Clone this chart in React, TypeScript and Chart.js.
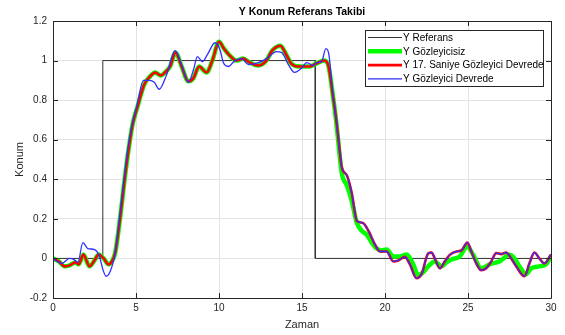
import React, { useEffect, useRef } from 'react';
import { Chart, registerables } from 'chart.js';

Chart.register(...registerables);

const TITLE = 'Y Konum Referans Takibi';
const X_LABEL = 'Zaman';
const Y_LABEL = 'Konum';
const LEGEND_LABELS = ['Y Referans', 'Y Gözleyicisiz', 'Y 17. Saniye Gözleyici Devrede', 'Y Gözleyici Devrede'];

const refT = [0, 3, 3, 15.8, 15.8, 30];
const refY = [0, 0, 1, 1, 0, 0];

const greenT = [0, 0.35, 0.7, 1.0, 1.35, 1.55, 1.83, 2.2, 2.5, 2.75, 3.05, 3.35, 3.55, 3.75, 4.05, 4.3, 4.55, 4.8, 5.1, 5.5, 5.85, 6.15, 6.5, 6.75, 7.05, 7.38, 7.75, 8.15, 8.45, 8.8, 9.25, 9.6, 10.0, 10.3, 10.65, 11.05, 11.45, 11.85, 12.35, 12.85, 13.2, 13.7, 14.05, 14.35, 14.85, 15.45, 15.85, 16.35, 16.6, 16.85, 17.05, 17.4, 17.7, 18.0, 18.3, 18.6, 18.9, 19.2, 19.5, 19.8, 20.1, 20.5, 20.9, 21.3, 21.7, 22.0, 22.3, 22.6, 23.0, 23.4, 23.7, 24.0, 24.5, 24.96, 25.3, 25.8, 26.3, 26.9, 27.5, 27.8, 28.1, 28.5, 28.8, 29.3, 29.7, 30];
const greenY = [0, -0.015, -0.04, -0.035, -0.02, -0.03, 0.02, -0.04, -0.01, 0.02, 0.0, -0.03, -0.015, 0.03, 0.21, 0.39, 0.55, 0.68, 0.77, 0.88, 0.92, 0.94, 0.925, 0.94, 0.97, 1.04, 0.97, 0.895, 0.91, 0.97, 0.94, 1.0, 1.095, 1.06, 1.025, 1.0, 1.01, 0.99, 0.975, 1.0, 1.05, 1.075, 1.03, 0.985, 0.97, 0.97, 0.985, 1.0, 0.97, 0.83, 0.7, 0.43, 0.37, 0.29, 0.18, 0.14, 0.12, 0.08, 0.05, 0.04, 0.045, 0.01, 0.01, 0.02, -0.03, -0.085, -0.07, -0.04, -0.015, -0.04, -0.02, -0.005, 0.01, 0.06, 0.02, -0.05, -0.03, -0.015, 0.018, 0.0, -0.04, -0.08, -0.05, -0.04, -0.03, 0.01];

const redT = [0, 0.35, 0.7, 1.0, 1.35, 1.55, 1.83, 2.2, 2.5, 2.75, 3.05, 3.35, 3.55, 3.75, 4.05, 4.3, 4.55, 4.8, 5.1, 5.5, 5.85, 6.15, 6.5, 6.75, 7.05, 7.38, 7.75, 8.15, 8.45, 8.8, 9.25, 9.6, 10.0, 10.3, 10.65, 11.05, 11.45, 11.85, 12.35, 12.85, 13.2, 13.7, 14.05, 14.35, 14.85, 15.45, 15.85, 16.35, 16.6, 16.85, 17.05, 17.2, 17.4, 17.7, 18.0, 18.3, 18.65, 19.0, 19.4, 19.7, 20.1, 20.5, 20.8, 21.2, 21.5, 21.9, 22.2, 22.6, 22.8, 23.0, 23.3, 23.6, 23.9, 24.3, 24.6, 24.96, 25.2, 25.5, 25.8, 26.1, 26.4, 26.7, 27.0, 27.3, 27.6, 27.9, 28.4, 28.7, 29.0, 29.3, 29.6, 30];
const redY = [0, -0.015, -0.04, -0.035, -0.02, -0.03, 0.02, -0.04, -0.01, 0.02, 0.0, -0.03, -0.015, 0.03, 0.21, 0.39, 0.55, 0.68, 0.77, 0.88, 0.92, 0.94, 0.925, 0.94, 0.97, 1.04, 0.97, 0.895, 0.91, 0.97, 0.94, 1.0, 1.095, 1.06, 1.025, 1.0, 1.01, 0.99, 0.975, 1.0, 1.05, 1.075, 1.03, 0.985, 0.97, 0.97, 0.985, 1.0, 0.97, 0.83, 0.71, 0.6, 0.46, 0.42, 0.33, 0.19, 0.18, 0.14, 0.07, 0.035, 0.035, -0.015, -0.01, 0.008, -0.03, -0.1, -0.08, 0.025, 0.03, 0.0, -0.05, -0.015, 0.018, 0.035, 0.04, 0.08, 0.035, -0.025, -0.06, -0.05, -0.015, 0.027, 0.022, 0.03, 0.0, -0.04, -0.09, -0.025, 0.03, 0.0, -0.025, 0.02];

const blueT = [0, 0.52, 1.0, 1.25, 1.5, 1.8, 2.1, 2.5, 2.8, 3.0, 3.2, 3.45, 3.75, 4.0, 4.25, 4.5, 4.75, 5.05, 5.45, 5.8, 6.1, 6.4, 6.85, 7.35, 7.75, 8.15, 8.45, 8.7, 9.0, 9.3, 9.76, 10.06, 10.26, 10.56, 10.96, 11.37, 11.77, 12.37, 12.87, 13.47, 13.78, 14.18, 14.55, 14.95, 15.28, 15.68, 15.88, 16.18, 16.44, 16.62, 16.85, 17.05, 17.2, 17.4, 17.7, 18.0, 18.3, 18.65, 19.0, 19.4, 19.7, 20.1, 20.5, 20.8, 21.2, 21.5, 21.9, 22.2, 22.6, 22.8, 23.0, 23.3, 23.6, 23.9, 24.3, 24.6, 24.96, 25.2, 25.5, 25.8, 26.1, 26.4, 26.7, 27.0, 27.3, 27.6, 27.9, 28.4, 28.7, 29.0, 29.3, 29.6, 30];
const blueY = [0, -0.025, 0.0, -0.005, -0.02, 0.08, 0.05, 0.045, 0.01, -0.055, -0.09, -0.065, 0.03, 0.2, 0.38, 0.55, 0.67, 0.77, 0.9, 0.9, 0.89, 0.855, 0.93, 1.05, 0.98, 0.89, 0.95, 1.02, 0.995, 1.03, 1.09, 1.055, 0.99, 0.97, 1.0, 1.01, 0.98, 0.99, 1.01, 1.045, 1.04, 0.98, 0.94, 0.96, 0.99, 0.975, 0.99, 0.995, 1.06, 1.03, 0.84, 0.71, 0.6, 0.46, 0.42, 0.33, 0.19, 0.18, 0.14, 0.07, 0.035, 0.035, -0.015, -0.01, 0.008, -0.03, -0.1, -0.08, 0.025, 0.03, 0.0, -0.05, -0.015, 0.018, 0.035, 0.04, 0.08, 0.035, -0.025, -0.06, -0.05, -0.015, 0.027, 0.022, 0.03, 0.0, -0.04, -0.09, -0.025, 0.03, 0.0, -0.025, 0.02];

const COLORS = ['#333333', '#00ff00', '#ff0000', '#2e2eff'];
const WIDTHS = [1, 4.5, 2.6, 1.3];

const FONT = '"Liberation Sans", Arial, Helvetica, sans-serif';

const pts = (t: number[], y: number[]) => t.map((v, i) => ({ x: v, y: y[i] }));

const decorPlugin = {
  id: 'decor',
  afterDraw(chart: any) {
    const { ctx, chartArea: a, scales } = chart;
    const xs = scales.x, ys = scales.y;
    ctx.save();
    ctx.strokeStyle = '#262626';
    ctx.lineWidth = 1;
    ctx.beginPath();
    ctx.rect(Math.round(a.left) + 0.5, Math.round(a.top) + 0.5, Math.round(a.right - a.left), Math.round(a.bottom - a.top));
    ctx.stroke();
    ctx.beginPath();
    xs.ticks.forEach((t: any) => {
      const px = Math.round(xs.getPixelForValue(t.value)) + 0.5;
      ctx.moveTo(px, a.bottom); ctx.lineTo(px, a.bottom - 5);
      ctx.moveTo(px, a.top); ctx.lineTo(px, a.top + 5);
    });
    ys.ticks.forEach((t: any) => {
      const py = Math.round(ys.getPixelForValue(t.value)) + 0.5;
      ctx.moveTo(a.left, py); ctx.lineTo(a.left + 5, py);
      ctx.moveTo(a.right, py); ctx.lineTo(a.right - 5, py);
    });
    ctx.stroke();

    const cx = (a.left + a.right) / 2;
    ctx.fillStyle = '#000';
    ctx.textAlign = 'center';
    ctx.textBaseline = 'middle';
    ctx.font = `bold 10.5px ${FONT}`;
    ctx.fillText(TITLE, cx, 12);
    ctx.fillStyle = '#262626';
    ctx.font = `11px ${FONT}`;
    ctx.fillText(X_LABEL, cx, 325);
    ctx.save();
    ctx.translate(20, (a.top + a.bottom) / 2);
    ctx.rotate(-Math.PI / 2);
    ctx.fillText(Y_LABEL, 0, 0);
    ctx.restore();

    // legend
    const lx = 365, ly = 30, lw = 178, lh = 56;
    ctx.fillStyle = '#fff';
    ctx.fillRect(lx, ly, lw, lh);
    ctx.strokeStyle = '#262626';
    ctx.lineWidth = 1;
    ctx.strokeRect(lx + 0.5, ly + 0.5, lw, lh);
    ctx.font = `10px ${FONT}`;
    ctx.textAlign = 'left';
    ctx.fillStyle = '#000';
    LEGEND_LABELS.forEach((lab, i) => {
      const y = 37.5 + i * 13.8;
      ctx.strokeStyle = COLORS[i];
      ctx.lineWidth = WIDTHS[i];
      ctx.beginPath();
      ctx.moveTo(368, y); ctx.lineTo(402, y);
      ctx.stroke();
      ctx.fillText(lab, 403, y + 0.5);
    });
    ctx.restore();
  },
};

export default function App() {
  const ref = useRef<HTMLCanvasElement>(null);
  useEffect(() => {
    if (!ref.current) return;
    const mk = (i: number, t: number[], y: number[], order: number, tension: number) => ({
      label: LEGEND_LABELS[i],
      data: pts(t, y),
      borderColor: COLORS[i],
      backgroundColor: COLORS[i],
      borderWidth: WIDTHS[i],
      pointRadius: 0,
      tension,
      cubicInterpolationMode: tension > 0 ? 'monotone' : 'default',
      order,
      fill: false,
    });
    const chart = new Chart(ref.current, {
      type: 'line',
      data: {
        datasets: [
          mk(0, refT, refY, 4, 0),
          mk(1, greenT, greenY, 3, 0.4),
          mk(2, redT, redY, 2, 0.4),
          mk(3, blueT, blueY, 1, 0.4),
        ] as any,
      },
      options: {
        animation: false,
        responsive: false,
        devicePixelRatio: 1,
        layout: { padding: { top: 21, right: 14, bottom: 0, left: 0 } },
        plugins: { legend: { display: false }, tooltip: { enabled: false }, title: { display: false } },
        scales: {
          x: {
            type: 'linear',
            min: 0,
            max: 30,
            ticks: { stepSize: 5, color: '#262626', font: { size: 10, family: FONT }, padding: 4, maxRotation: 0 },
            grid: { color: '#e3e3e3', drawTicks: false },
            border: { display: false },
            afterFit: (s: any) => { s.height = 37; },
          },
          y: {
            type: 'linear',
            min: -0.2,
            max: 1.2,
            ticks: {
              stepSize: 0.2,
              color: '#262626',
              font: { size: 10, family: FONT },
              padding: 6,
              callback: (v: any) => String(Math.round(Number(v) * 10) / 10),
            },
            grid: { color: '#e3e3e3', drawTicks: false },
            border: { display: false },
            afterFit: (s: any) => { s.width = 53; },
          },
        },
      } as any,
      plugins: [decorPlugin],
    });
    return () => chart.destroy();
  }, []);
  return (
    <div style={{ position: 'fixed', left: 0, top: 0, width: 565, height: 335, background: '#fff' }}>
      <canvas ref={ref} width={565} height={335} style={{ width: 565, height: 335 }} />
    </div>
  );
}
